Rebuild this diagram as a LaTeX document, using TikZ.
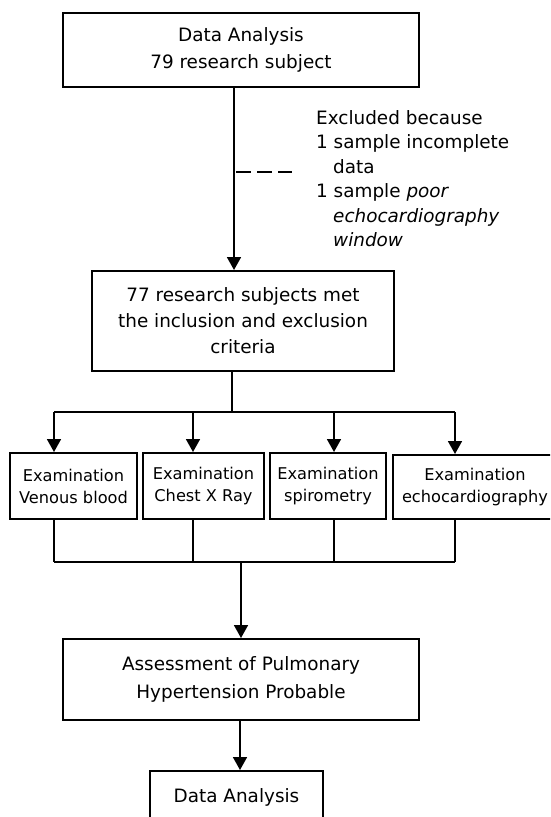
\documentclass[tikz,border=0pt]{standalone}
\usepackage{fontspec}
\setmainfont{DejaVu Sans}
\usepackage{tikz}
\usetikzlibrary{arrows.meta}
\tikzset{>={Triangle[length=13pt,width=14pt]}}
\tikzset{box/.style={draw, line width=2pt, align=center, inner sep=0pt,
    font=\fontsize{18.4}{26}\selectfont}}
\tikzset{exambox/.style={box, minimum height=66pt, font=\fontsize{16.2}{22}\selectfont}}
\tikzset{link/.style={line width=1.8pt}}
\tikzset{exdash/.style={line width=1.8pt, dash pattern=on 15pt off 6pt}}

\begin{document}
\begin{tikzpicture}[x=1pt,y=-1pt]
    \useasboundingbox (0,0) rectangle (550,817);
    \clip (0,0) rectangle (550,817);
    %boxes
    \node[box, minimum width=356pt, minimum height=74pt,
        font=\fontsize{18.4}{27}\selectfont] (data) at (241,50)
        {Data Analysis\\79 research subject};
    \node[box, minimum width=302pt, minimum height=100pt] (incl) at (243,321)
        {77 research subjects met\\the inclusion and exclusion\\criteria};
    \node[exambox, minimum width=127pt] (venous) at (73.5,486) {Examination\\Venous blood};
    \node[exambox, minimum width=121pt] (xray) at (203.5,486) {Examination\\Chest X Ray};
    \node[exambox, minimum width=116pt] (spiro) at (328,486) {Examination\\spirometry};
    \node[exambox, minimum width=164pt, minimum height=64pt] (echo) at (475,487)
        {Examination\\echocardiography};
    \node[box, minimum width=356pt, minimum height=81pt,
        font=\fontsize{18.4}{28}\selectfont] (assess) at (241,679.5)
        {Assessment of Pulmonary\\Hypertension Probable};
    \node[box, minimum width=173pt, minimum height=52pt] (final) at (236.5,797) {Data Analysis};
    %excluded note
    \node[anchor=north west, align=left, inner sep=0pt,
        font=\fontsize{18.4}{24.5}\selectfont] (excl) at (316,110)
        {Excluded because\\1 sample incomplete\\\hspace*{17pt}data\\
         1 sample \textit{poor}\\\hspace*{17pt}\textit{echocardiography}\\
         \hspace*{17pt}\textit{window}};
    %points
    \coordinate (spine) at (234,0);
    \coordinate (dj) at (236,172);
    \coordinate (dk) at (292,172);
    \coordinate (split) at (232,412);
    \coordinate (bl) at (54,412);
    \coordinate (br) at (455,412);
    \coordinate (jl) at (54,562);
    \coordinate (jr) at (455,562);
    \coordinate (join) at (241,562);
    \coordinate (tail) at (240,0);
    %lines
    \draw[link,->] (data.south -| spine) -- (incl.north -| spine);
    \draw[exdash] (dj) -- (dk);
    \draw[link] (incl.south -| split) -- (split);
    \draw[link] (bl) -- (br);
    \draw[link] (jl) -- (jr);
    \foreach \n/\x in {venous/54, xray/193, spiro/334, echo/455} {
        \draw[link,->] (\x,412) -- (\n.north -| \x,0);
        \draw[link] (\n.south -| \x,0) -- (\x,562);
    }
    \draw[link,->] (join) -- (assess.north -| join);
    \draw[link,->] (assess.south -| tail) -- (final.north -| tail);
\end{tikzpicture}
\end{document}
